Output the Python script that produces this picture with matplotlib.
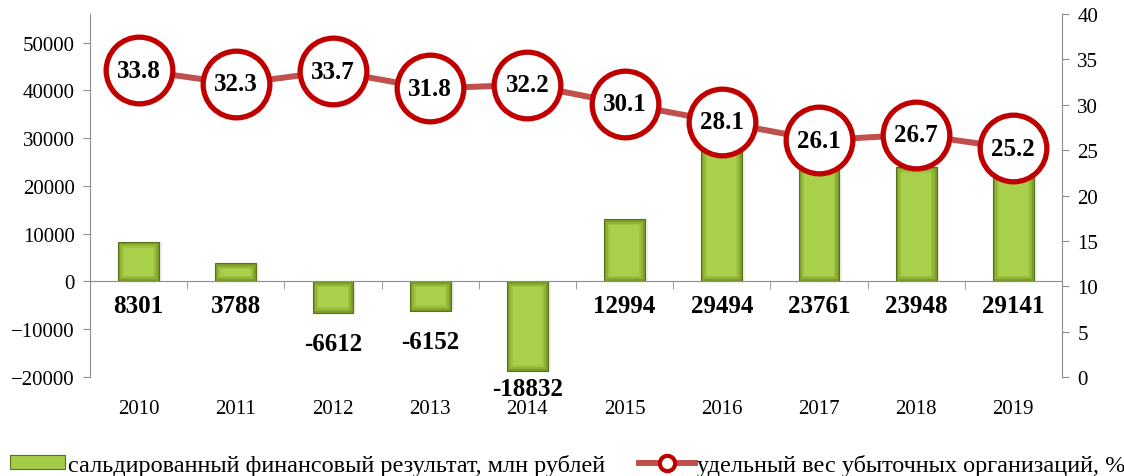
import numpy as np
import matplotlib.pyplot as plt
from matplotlib.patches import Rectangle
from matplotlib.lines import Line2D

plt.rcParams['font.family'] = ['Liberation Serif', 'DejaVu Serif']

# data
years = ["2010", "2011", "2012", "2013", "2014", "2015", "2016", "2017", "2018", "2019"]
fin_result = [8301, 3788, -6612, -6152, -18832, 12994, 29494, 23761, 23948, 29141]
loss_share = [33.8, 32.3, 33.7, 31.8, 32.2, 30.1, 28.1, 26.1, 26.7, 25.2]

bar_label = "сальдированный финансовый результат, млн рублей"
line_label = "удельный вес убыточных организаций, %"

x = np.arange(len(years))
gray = "#8c8c8c"

fig = plt.figure(figsize=(11.24, 4.77), dpi=100)
ax = fig.add_axes([0.0801, 0.2075, 0.8647, 0.7611])
ax2 = ax.twinx()

# bars with a layered bevel look
w = 0.42
ax.bar(x + 0.03, fin_result, width=w, color="#000000", alpha=0.06, zorder=1)
ax.bar(x, fin_result, width=w, color="#7d9c2a", edgecolor="#56701c", linewidth=0.8, zorder=2)
layers = [(0.9, 450, "#8fb336"), (0.8, 900, "#9ec542"), (0.72, 1250, "#a8d04c")]
for k, (fw, bev, col) in enumerate(layers):
    inner_b = [bev if v > 0 else -bev for v in fin_result]
    inner_h = [v - 2 * b if abs(v) > 2 * bev else 0 for v, b in zip(fin_result, inner_b)]
    ax.bar(x, inner_h, bottom=inner_b, width=w * fw, color=col, linewidth=0, zorder=3 + k * 0.1)

for xi, v in zip(x, fin_result):
    ly = -5000 if v > 0 else max(v - 6400, -22500)
    ax.text(xi, ly, str(v), ha="center", va="center", fontsize=18,
            fontweight="bold", zorder=6, clip_on=False)

ax.set_xlim(-0.5, len(years) - 0.5)
ax.set_ylim(-20000, 56000)
ax.set_yticks(np.arange(-20000, 50001, 10000))
ax.tick_params(axis="y", labelsize=15, length=5, color=gray, pad=6)

# category axis sits at zero
ax.spines["bottom"].set_position(("data", 0))
ax.spines["bottom"].set_color(gray)
ax.spines["top"].set_visible(False)
ax.spines["left"].set_color(gray)
ax.spines["right"].set_visible(False)
ax.set_xticks(x)
ax.set_xticklabels([])
ax.set_xticks(np.arange(0.5, len(years) - 1, 1.0), minor=True)
ax.tick_params(axis="x", which="major", length=0)
ax.tick_params(axis="x", which="minor", length=6, color=gray, direction="out")
for xi, yr in zip(x, years):
    ax.text(xi, -0.087, yr, transform=ax.get_xaxis_transform(), ha="center",
            va="center", fontsize=15)

# line on secondary axis
ax2.plot(x, loss_share, color="#c0504d", linewidth=4.3, marker="o", markersize=48,
         markerfacecolor="white", markeredgecolor="#c00000", markeredgewidth=3.8,
         zorder=4, clip_on=False)
for xi, v in zip(x, loss_share):
    ax2.text(xi, v, f"{v:.1f}", ha="center", va="center", fontsize=18,
             fontweight="bold", zorder=7)
ax2.set_ylim(0, 40)
ax2.set_yticks(np.arange(0, 41, 5))
ax2.tick_params(axis="y", labelsize=15, length=5, color=gray, pad=6)
for s in ["top", "left", "bottom"]:
    ax2.spines[s].set_visible(False)
ax2.spines["right"].set_color(gray)

# legend
h_bar = Rectangle((0, 0), 1, 1, facecolor="#a4cc48", edgecolor="#56701c", linewidth=0.8)
h_line = Line2D([], [], color="#c0504d", linewidth=4.3, marker="o", markersize=11,
                markerfacecolor="white", markeredgecolor="#c00000", markeredgewidth=3)
fig.legend([h_bar, h_line], [bar_label, line_label], loc="lower center",
           bbox_to_anchor=(0.505, -0.045), ncol=2, frameon=False, fontsize=17.5,
           handlelength=2.3, handleheight=0.5, handletextpad=0.1, columnspacing=1.4)

fig.savefig("out.png", dpi=100)
